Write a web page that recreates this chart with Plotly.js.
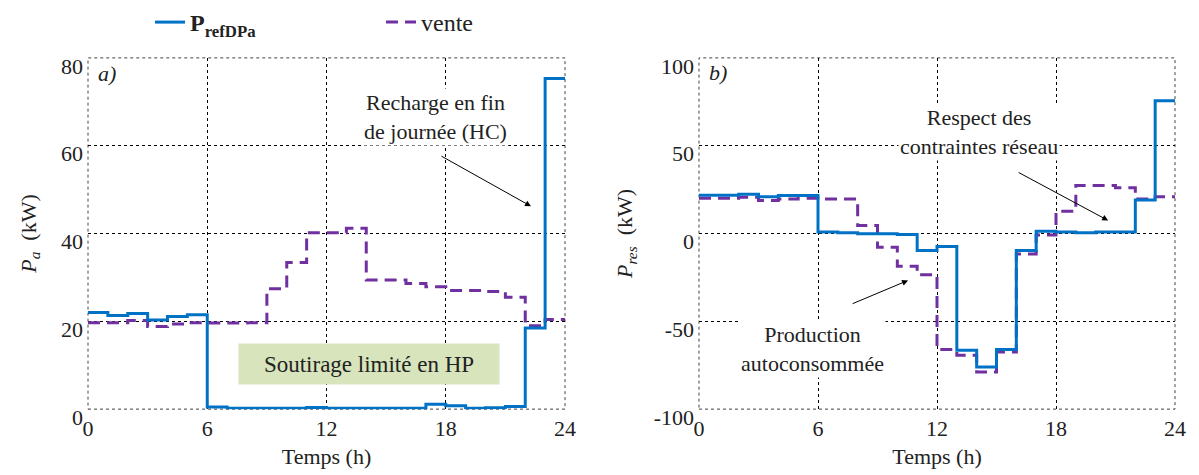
<!DOCTYPE html>
<html>
<head>
<meta charset="utf-8">
<script src="https://cdn.plot.ly/plotly-3.0.1.min.js"></script>
<style>html,body{margin:0;padding:0;background:#fff;}#chart{width:1199px;height:475px;}</style>
</head>
<body>
<div id="chart"></div>
<script>
// ---- data ----
const hours = [0,1,2,3,4,5,6,7,8,9,10,11,12,13,14,15,16,17,18,19,20,21,22,23];
const xTickVals = [0, 6, 12, 18, 24];
const xTickText = ['0', '6', '12', '18', '24'];
const yTickValsA = [0, 20, 40, 60, 80];
const yTickTextA = ['0', '20', '40', '60', '80'];
const yTickValsB = [-100, -50, 0, 50, 100];
const yTickTextB = ['-100', '-50', '0', '50', '100'];

// a) Pa (kW)
const aRefDPa = [22.0, 21.3, 21.8, 20.3, 21.1, 21.5, 0.5, 0.2, 0.2, 0.2, 0.2, 0.4, 0.2, 0.2, 0.2, 0.2, 0.2, 1.1, 0.8, 0.2, 0.3, 0.6, 18.5, 75.3];
const aVente   = [19.7, 19.7, 20.2, 18.8, 19.4, 19.7, 19.6, 19.6, 19.7, 27.4, 33.4, 40.2, 40.2, 41.2, 29.4, 29.4, 28.6, 27.9, 27.0, 27.0, 26.8, 25.5, 19.0, 20.4];

// b) Pres (kW)
const bRefDPa = [21.8, 21.8, 22.3, 21.0, 21.6, 21.6, 0.9, 0.4, -0.2, -0.2, -0.6, -9.7, -7.4, -66.5, -76.0, -66.0, -9.7, 1.3, 0.9, 0.4, 0.9, 0.9, 19.1, 75.6];
const bVente   = [20.1, 20.1, 20.6, 18.8, 19.7, 20.1, 19.7, 19.7, 4.5, -7.8, -18.6, -23.5, -66.1, -69.3, -78.8, -67.4, -11.6, -0.8, 12.7, 27.3, 27.3, 26.0, 19.7, 21.0];

const nameRef = '<b>P<sub>refDPa</sub></b>';
const nameVente = 'vente';

// ---- helpers: hourly step series ending at 24 h ----
const stepX = hours.concat([24]);
function stepY(v) { return v.concat([v[v.length - 1]]); }

const BLUE = 'rgb(0,114,198)';
const PURPLE = 'rgb(112,48,160)';
const FONT = 'Liberation Serif';
const TXT = '#222';

const traces = [
  {x: stepX, y: stepY(aVente), xaxis: 'x', yaxis: 'y', mode: 'lines', line: {shape: 'hv', color: PURPLE, width: 3, dash: '12px,7px'}, name: nameVente, legendrank: 2, showlegend: true},
  {x: stepX, y: stepY(aRefDPa), xaxis: 'x', yaxis: 'y', mode: 'lines', line: {shape: 'hv', color: BLUE, width: 3}, name: nameRef, legendrank: 1, showlegend: true},
  {x: stepX, y: stepY(bVente), xaxis: 'x2', yaxis: 'y2', mode: 'lines', line: {shape: 'hv', color: PURPLE, width: 3, dash: '12px,7px'}, name: nameVente, showlegend: false},
  {x: stepX, y: stepY(bRefDPa), xaxis: 'x2', yaxis: 'y2', mode: 'lines', line: {shape: 'hv', color: BLUE, width: 3}, name: nameRef, showlegend: false}
];

const W = 1199, H = 475;
const yDom = [1 - 409 / H, 1 - 57 / H];

function tf(sz) { return {family: FONT, size: sz, color: TXT}; }

const axCommon = {
  showgrid: true, gridcolor: '#000', griddash: 'dot', gridwidth: 1,
  zeroline: false, showline: false, ticks: '',
  automargin: false, fixedrange: true
};

const frame = (xr, yr) => ({type: 'rect', xref: xr, yref: yr, x0: 0, x1: 1, y0: 0, y1: 1,
  line: {color: '#444', width: 1, dash: 'dot'}, fillcolor: 'rgba(0,0,0,0)', layer: 'below'});

const layout = {
  width: W, height: H,
  margin: {l: 0, r: 0, t: 0, b: 0},
  paper_bgcolor: '#fff', plot_bgcolor: '#fff',
  showlegend: true,
  legend: {orientation: 'h', x: 150 / W, xanchor: 'left', y: 1 - 22 / H, yanchor: 'middle',
           font: tf(24), bgcolor: 'rgba(0,0,0,0)',
           entrywidth: 186, entrywidthmode: 'pixels', tracegroupgap: 0},
  xaxis: Object.assign({}, axCommon, {domain: [88 / W, 565 / W], range: [0, 24], tickvals: xTickVals, ticktext: xTickText, anchor: 'y',
    tickfont: tf(22), ticklabelstandoff: 4,
    title: {text: 'Temps (h)', font: tf(22), standoff: 8}}),
  yaxis: Object.assign({}, axCommon, {domain: yDom, range: [0, 80], tickvals: yTickValsA, ticktext: yTickTextA, anchor: 'x',
    tickfont: tf(22), ticklabelstandoff: 4, ticklabelshift: 8,
    title: {text: '<i>P</i><sub><i>a</i></sub>  (kW)', font: tf(22), standoff: 18}}),
  xaxis2: Object.assign({}, axCommon, {domain: [699 / W, 1175 / W], range: [0, 24], tickvals: xTickVals, ticktext: xTickText, anchor: 'y2',
    tickfont: tf(22), ticklabelstandoff: 4,
    title: {text: 'Temps (h)', font: tf(22), standoff: 8}}),
  yaxis2: Object.assign({}, axCommon, {domain: yDom, range: [-100, 100], tickvals: yTickValsB, ticktext: yTickTextB, anchor: 'x2',
    tickfont: tf(22), ticklabelstandoff: 4, ticklabelshift: 8,
    title: {text: '<i>P</i><sub><i>res</i></sub>  (kW)', font: tf(22), standoff: 14}}),
  shapes: [frame('x domain', 'y domain'), frame('x2 domain', 'y2 domain')],
  annotations: [
    {xref: 'x', yref: 'y', x: 0.96, y: 76.4, text: '<i>a)</i>', showarrow: false, font: tf(22)},
    {xref: 'x2', yref: 'y2', x: 0.96, y: 91.5, text: '<i>b)</i>', showarrow: false, font: tf(22)},
    {xref: 'x', yref: 'y', x: 17.5, y: 66.6, text: 'Recharge en fin<br>de journée (HC)', showarrow: false, font: tf(22), bgcolor: '#fff'},
    {xref: 'x', yref: 'y', axref: 'x', ayref: 'y', x: 22.29, y: 46.2, ax: 17.71, ay: 57.8, text: '', showarrow: true, arrowhead: 2, arrowsize: 1.2, arrowwidth: 1, arrowcolor: '#000'},
    {xref: 'x', yref: 'y', x: 14.14, y: 10.2, text: 'Soutirage limité en HP', showarrow: false, font: tf(23), bgcolor: '#d8e4bc', width: 256, height: 36, borderpad: 2},
    {xref: 'x2', yref: 'y2', x: 14.12, y: 58, text: 'Respect des<br>contraintes réseau', showarrow: false, font: tf(22), bgcolor: '#fff'},
    {xref: 'x2', yref: 'y2', axref: 'x2', ayref: 'y2', x: 20.63, y: 7.4, ax: 16.04, ay: 35.2, text: '', showarrow: true, arrowhead: 2, arrowsize: 1.2, arrowwidth: 1, arrowcolor: '#000'},
    {xref: 'x2', yref: 'y2', x: 5.72, y: -65.6, text: 'Production<br>autoconsommée', showarrow: false, font: tf(22), bgcolor: '#fff'},
    {xref: 'x2', yref: 'y2', axref: 'x2', ayref: 'y2', x: 10.54, y: -26.7, ax: 7.67, ay: -40.3, text: '', showarrow: true, arrowhead: 2, arrowsize: 1.2, arrowwidth: 1, arrowcolor: '#000'}
  ]
};

Plotly.newPlot('chart', traces, layout, {displayModeBar: false, staticPlot: true});
</script>
</body>
</html>
